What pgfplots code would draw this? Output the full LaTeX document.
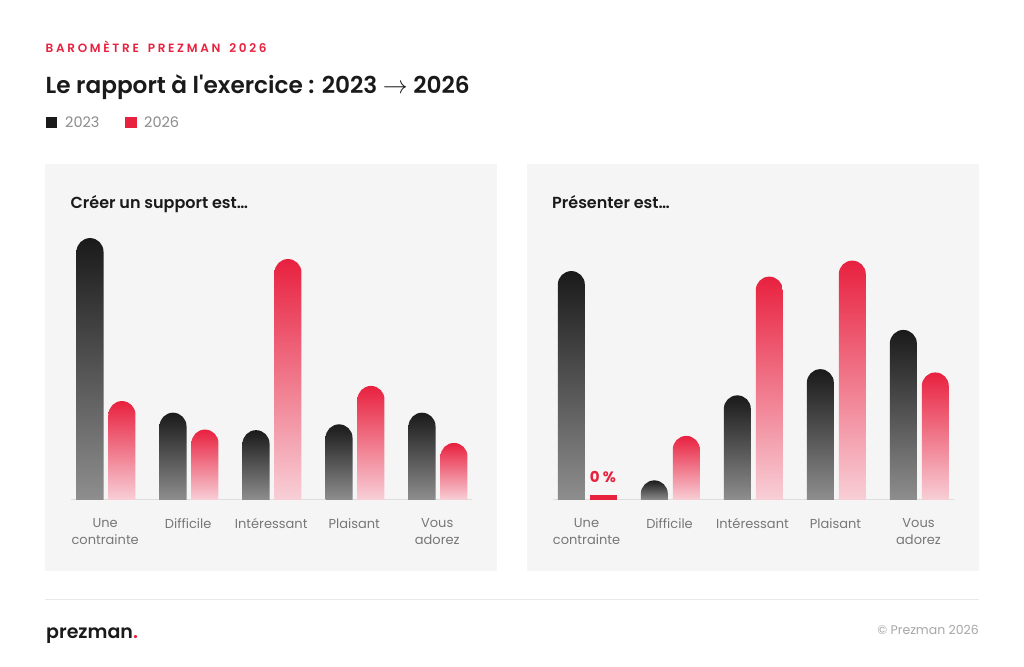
\documentclass[border=0pt]{standalone}
\usepackage{fontspec}
\usepackage{pgfplots}
\pgfplotsset{compat=1.18}
\setmainfont{Poppins}
\newfontfamily\popsb{Poppins SemiBold}
\newfontfamily\popsB{Poppins Bold}
\newfontfamily\popsbs[LetterSpace=22.5,WordSpace=1.6]{Poppins SemiBold}
\definecolor{ink}{HTML}{1A1A1A}
\definecolor{inkb}{HTML}{8E8E8E}
\definecolor{red1}{HTML}{E8213F}
\definecolor{redb}{HTML}{F8CFD7}
\definecolor{panel}{HTML}{F5F5F5}
\definecolor{txt}{HTML}{777777}
\pgfplotsset{
  b23/.style={draw=none,top color=ink,bottom color=inkb,rounded corners=13.5pt,sharp plot,no markers,forget plot},
  b26/.style={draw=none,top color=red1,bottom color=redb,rounded corners=13.5pt,sharp plot,no markers,forget plot},
  panelaxis/.style={
    anchor=south west,scale only axis,width=401pt,height=270pt,
    xmin=-0.418,xmax=4.413,ymin=0,
    axis x line=bottom,axis y line=none,
    axis line style={-,draw=black!13,line width=1pt},
    xtick={0,1,2,3,4},
    xticklabels={{Une\\contrainte},{Difficile\\\mbox{}},{Intéressant\\\mbox{}},{Plaisant\\\mbox{}},{Vous\\adorez}},
    xticklabel style={align=center,font=\fontsize{13}{17}\selectfont,text=txt,anchor=north,yshift=-15pt,xshift=-0.8pt},
    major tick length=0pt,clip=false},
}
\begin{document}
\begin{tikzpicture}[x=1pt,y=1pt]
\fill[white] (0,0) rectangle (1024,666);
\fill[panel] (45,95) rectangle (497,502);
\fill[panel] (527,95) rectangle (979,502);
% header
\node[anchor=base west,inner sep=0,text=red1] at (45.5,613.5) {\fontsize{12}{14}\popsbs BAROMÈTRE PREZMAN 2026};
\node[anchor=base west,inner sep=0,text=ink] at (45.5,572) {\fontsize{23.2}{28}\popsb Le rapport à l'exercice : 2023 $\rightarrow$ 2026};
\fill[ink] (45.5,538) rectangle (57,549);
\node[anchor=base west,inner sep=0,text=txt!85] at (65,538.5) {\fontsize{14.5}{17}\selectfont 2023};
\fill[red1] (125,538) rectangle (136.5,549);
\node[anchor=base west,inner sep=0,text=txt!85] at (144,538.5) {\fontsize{14.5}{17}\selectfont 2026};
% panel titles
\node[anchor=base west,inner sep=0,text=ink] at (70.5,457.5) {\fontsize{16}{19}\popsb Créer un support est…};
\node[anchor=base west,inner sep=0,text=ink] at (552,457.5) {\fontsize{16}{19}\popsb Présenter est…};
% left
\begin{axis}[panelaxis,at={(71.3pt,166pt)},ymax=46.39]
\addplot[b23] coordinates {(-0.355,0)(-0.355,45)(-0.03,45)(-0.03,0)};
\addplot[b26] coordinates {(0.03,0)(0.03,17)(0.355,17)(0.355,0)};
\addplot[b23] coordinates {(0.645,0)(0.645,15)(0.97,15)(0.97,0)};
\addplot[b26] coordinates {(1.03,0)(1.03,12.1)(1.355,12.1)(1.355,0)};
\addplot[b23] coordinates {(1.645,0)(1.645,12)(1.97,12)(1.97,0)};
\addplot[b26] coordinates {(2.03,0)(2.03,41.4)(2.355,41.4)(2.355,0)};
\addplot[b23] coordinates {(2.645,0)(2.645,13)(2.97,13)(2.97,0)};
\addplot[b26] coordinates {(3.03,0)(3.03,19.6)(3.355,19.6)(3.355,0)};
\addplot[b23] coordinates {(3.645,0)(3.645,15)(3.97,15)(3.97,0)};
\addplot[b26] coordinates {(4.03,0)(4.03,9.8)(4.355,9.8)(4.355,0)};
\end{axis}
% right
\begin{axis}[panelaxis,at={(552.6pt,166pt)},ymax=41.28]
\addplot[b23] coordinates {(-0.355,0)(-0.355,35)(-0.03,35)(-0.03,0)};
\addplot[forget plot,draw=none,fill=red1,sharp plot,no markers] coordinates {(0.03,0)(0.03,0.77)(0.355,0.77)(0.355,0)};
\addplot[b23] coordinates {(0.645,0)(0.645,3)(0.97,3)(0.97,0)};
\addplot[b26] coordinates {(1.03,0)(1.03,9.8)(1.355,9.8)(1.355,0)};
\addplot[b23] coordinates {(1.645,0)(1.645,16)(1.97,16)(1.97,0)};
\addplot[b26] coordinates {(2.03,0)(2.03,34.15)(2.355,34.15)(2.355,0)};
\addplot[b23] coordinates {(2.645,0)(2.645,20)(2.97,20)(2.97,0)};
\addplot[b26] coordinates {(3.03,0)(3.03,36.6)(3.355,36.6)(3.355,0)};
\addplot[b23] coordinates {(3.645,0)(3.645,26)(3.97,26)(3.97,0)};
\addplot[b26] coordinates {(4.03,0)(4.03,19.5)(4.355,19.5)(4.355,0)};
\node[text=red1,inner sep=0] at (axis cs:0.187,3.45) {\fontsize{15}{18}\popsB 0 \%};
\end{axis}
% footer
\draw[black!9,line width=1pt] (45,66.5) -- (979,66.5);
\node[anchor=base west,inner sep=0,text=ink] at (46,28) {\fontsize{19}{24}\popsb prezman{\color{red1}.}};
\node[anchor=base east,inner sep=0,text=txt!65] at (979,32) {\fontsize{12.5}{15}\selectfont © Prezman 2026};
\end{tikzpicture}
\end{document}
